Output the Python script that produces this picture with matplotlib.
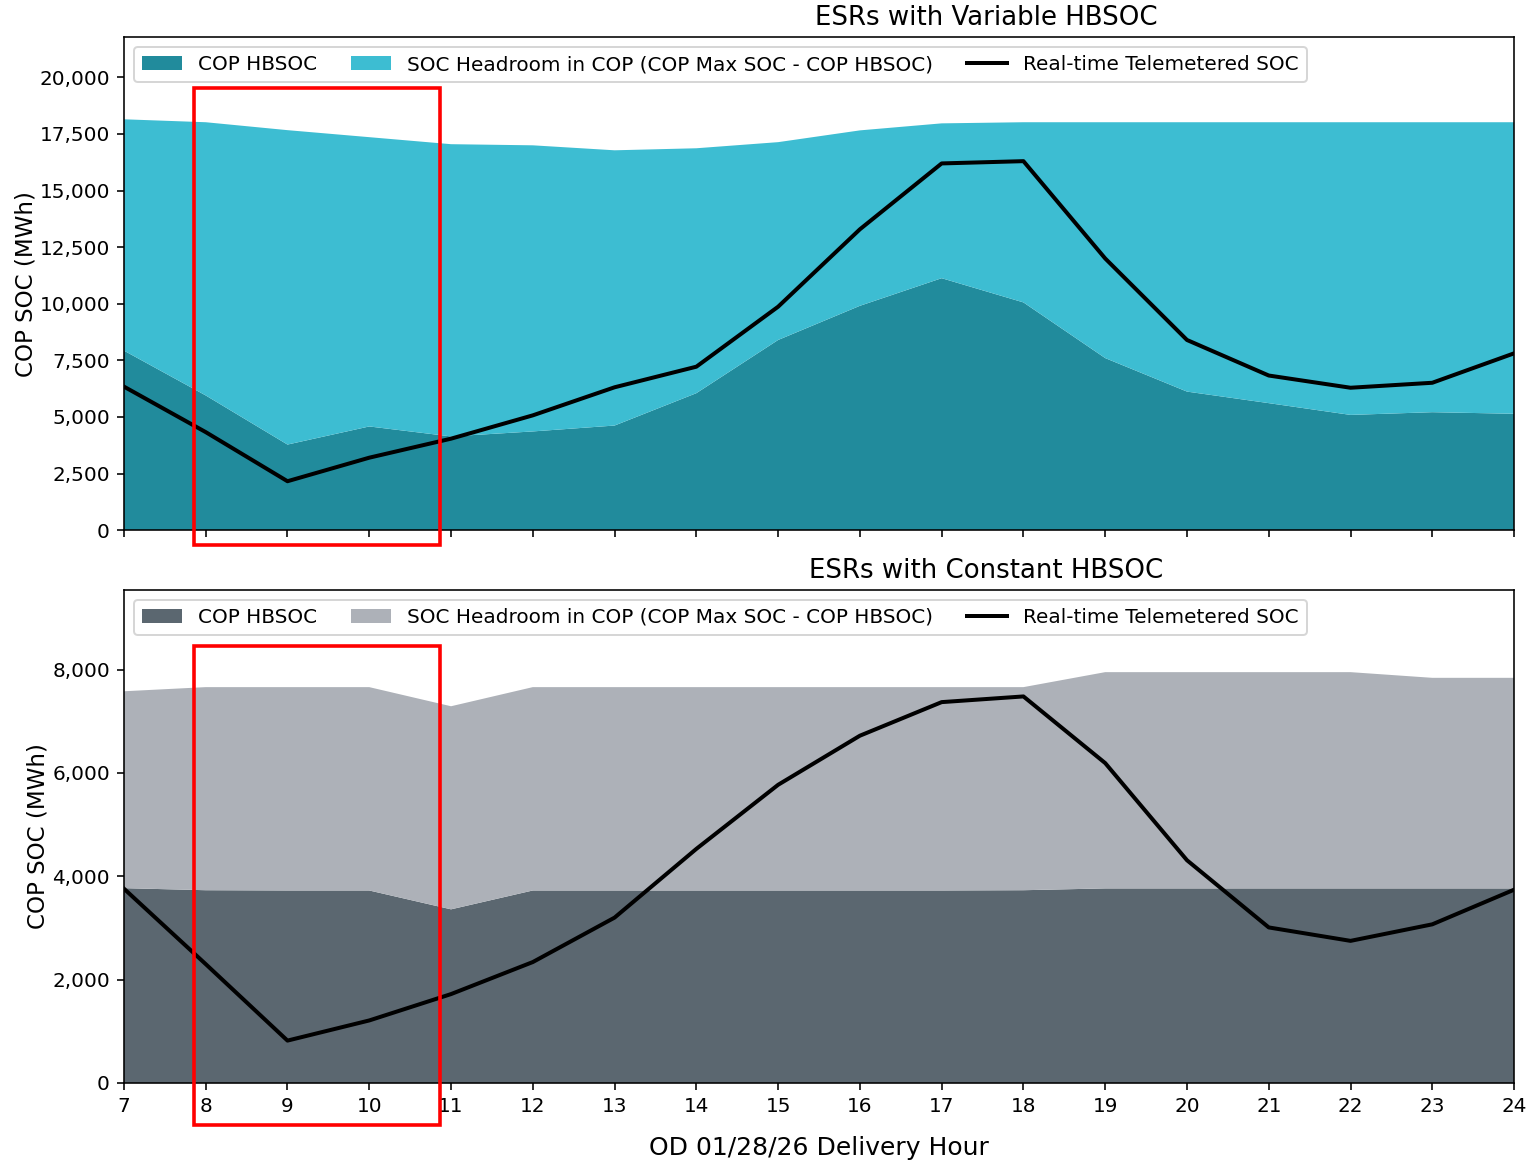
import matplotlib
matplotlib.use("Agg")
import matplotlib.pyplot as plt
from matplotlib.patches import Rectangle
from matplotlib.ticker import FuncFormatter

# delivery hours
hours = list(range(7, 25))

# ESRs with variable HBSOC (MWh)
var_hbsoc = [7930, 5950, 3780, 4580, 4140, 4360, 4620, 6050, 8400, 9910,
             11130, 10060, 7600, 6120, 5610, 5090, 5210, 5140]
var_max_soc = [18150, 18020, 17670, 17360, 17050, 17000, 16780, 16870, 17140, 17660,
               17970, 18020, 18020, 18020, 18020, 18020, 18020, 18020]
var_rt_soc = [6340, 4330, 2160, 3200, 4040, 5070, 6310, 7220, 9870, 13290,
              16200, 16300, 12000, 8400, 6830, 6290, 6510, 7810]

# ESRs with constant HBSOC (MWh)
con_hbsoc = [3770, 3730, 3725, 3725, 3360, 3725, 3725, 3725, 3725, 3725,
             3725, 3730, 3765, 3765, 3765, 3765, 3765, 3765]
con_max_soc = [7580, 7660, 7660, 7660, 7290, 7660, 7660, 7660, 7660, 7660,
               7660, 7660, 7950, 7950, 7950, 7950, 7840, 7840]
con_rt_soc = [3760, 2300, 820, 1210, 1720, 2340, 3200, 4530, 5770, 6720,
              7370, 7480, 6190, 4310, 3010, 2750, 3070, 3740]

fig = plt.figure(figsize=(1532 / 144, 1160 / 144), dpi=144)
ax1 = fig.add_axes([0.0809, 0.543, 0.9074, 0.425])
ax2 = fig.add_axes([0.0809, 0.0664, 0.9074, 0.425], sharex=ax1)

panels = [
    (ax1, var_hbsoc, var_max_soc, var_rt_soc, "#218B9C", "#3DBDD2", "ESRs with Variable HBSOC"),
    (ax2, con_hbsoc, con_max_soc, con_rt_soc, "#5B6770", "#ADB1B8", "ESRs with Constant HBSOC"),
]

for ax, hb, mx, rt, c_dark, c_light, title in panels:
    headroom = [m - h for m, h in zip(mx, hb)]
    ax.stackplot(hours, hb, headroom, colors=[c_dark, c_light],
                 labels=["COP HBSOC", "SOC Headroom in COP (COP Max SOC - COP HBSOC)"])
    ax.plot(hours, rt, color="black", lw=2, label="Real-time Telemetered SOC")
    ax.set_xlim(7, 24)
    ax.set_ylim(0, max(mx) * 1.2)
    ax.set_xticks(hours)
    ax.yaxis.set_major_formatter(FuncFormatter(lambda v, p: f"{v:,.0f}"))
    ax.set_title(title, fontsize=13, x=0.62)
    ax.legend(loc="upper left", ncol=3, fontsize=10, columnspacing=1.7)
    ax.tick_params(labelsize=10)

ax1.set_ylabel("COP SOC (MWh)", fontsize=11.5, labelpad=1)
ax2.set_ylabel("COP SOC (MWh)", fontsize=11.5, labelpad=1.5)
ax1.set_yticks([0, 2500, 5000, 7500, 10000, 12500, 15000, 17500, 20000])
ax2.set_yticks([0, 2000, 4000, 6000, 8000])
plt.setp(ax1.get_xticklabels(), visible=False)
ax2.set_xlabel("OD 01/28/26 Delivery Hour", fontsize=12.5, labelpad=10)

# red highlight boxes over hours 8-11
for y0, y1 in [(88, 545), (646, 1125)]:
    fig.add_artist(Rectangle((194 / 1532, 1 - y1 / 1160), (440 - 194) / 1532, (y1 - y0) / 1160,
                             transform=fig.transFigure, fill=False, edgecolor="red", lw=1.8,
                             clip_on=False, zorder=10))

fig.savefig("out.png", dpi=144)
